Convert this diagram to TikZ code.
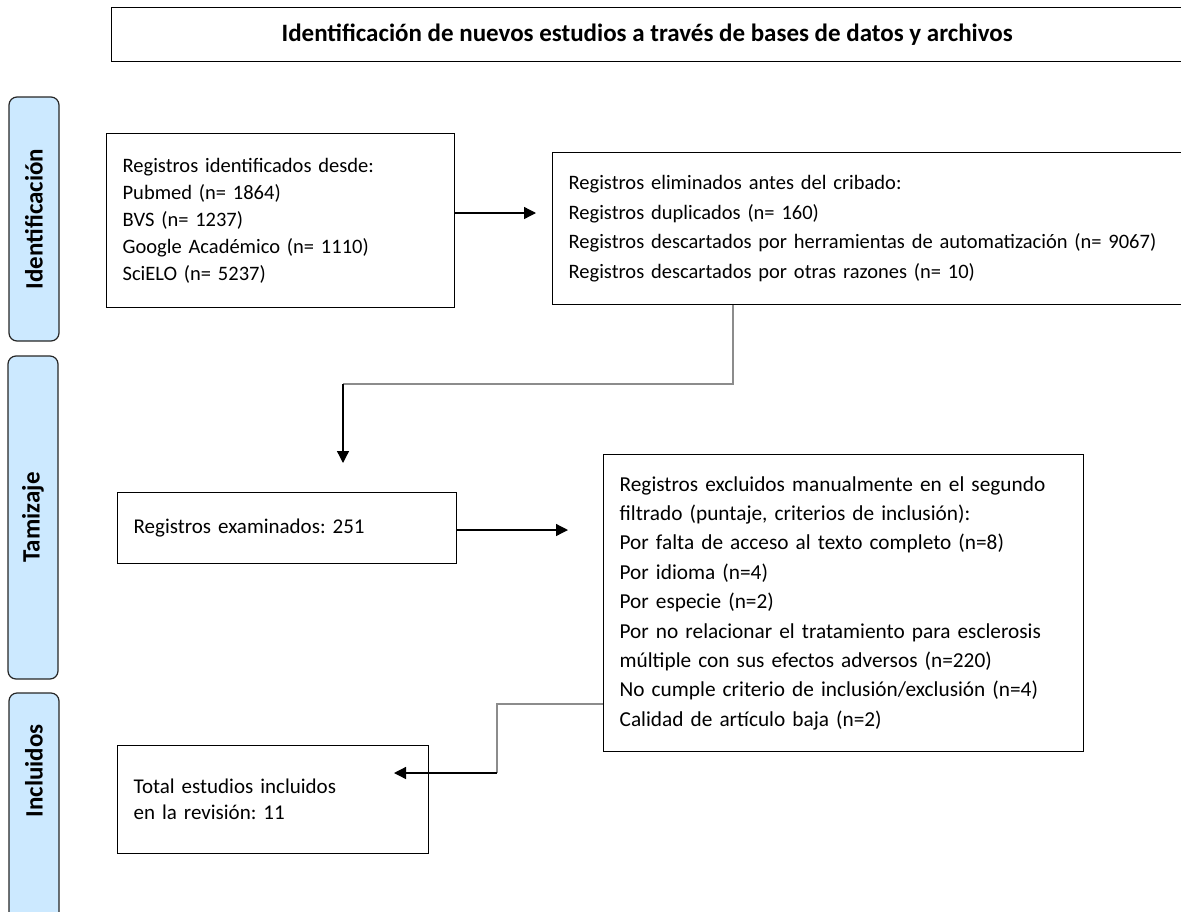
\documentclass[tikz,border=0pt]{standalone}
\usepackage{fontspec}
\setmainfont{Carlito}
\usetikzlibrary{arrows.meta}
\definecolor{phasefill}{HTML}{CCE9FF}
\definecolor{connGray}{HTML}{8C8C8C}
\begin{document}
\frenchspacing
\begin{tikzpicture}[x=1pt,y=-1pt,
  box/.style={draw=black,line width=1.3pt,anchor=north west,inner xsep=16pt,inner ysep=0pt,align=left,font=\fontsize{20.5}{27}\selectfont},
  phase/.style={draw=black!85,line width=1.2pt,fill=phasefill,rounded corners=8pt,rotate=90,minimum height=50pt,inner sep=0pt},
  phasefont/.style={font=\fontsize{25}{28}\selectfont\bfseries},
  grayline/.style={draw=connGray,line width=1.2pt},
  arrowline/.style={draw=black,line width=1.3pt,-{Triangle[length=12pt,width=12pt]}}
]
\useasboundingbox (0,0) rectangle (1181,911);
% title
\node[draw=black,line width=1.3pt,anchor=north west,minimum width=1071pt,minimum height=54pt,inner sep=0pt,font=\fontsize{25}{28}\selectfont\bfseries] (title) at (111,7) {Identificación de nuevos estudios a través de bases de datos y archivos};
% phases
\node[phase,minimum width=244pt,phasefont] (p1) at (34,219) {Identificación};
\node[phase,minimum width=323pt,phasefont] (p2) at (33,517.5) {Tamizaje};
\node[phase,minimum width=240pt] (p3) at (34,813) {};
\node[phasefont,rotate=90] (p3t) at (34,771) {Incluidos};
% boxes
\node[box,minimum width=348pt,minimum height=174pt,text width=316pt] (b1) at (106,133) {Registros identificados desde:\\Pubmed (n= 1864)\\BVS (n= 1237)\\Google Académico (n= 1110)\\SciELO (n= 5237)};
\node[box,minimum width=631pt,minimum height=152pt,text width=599pt,font=\fontsize{20.5}{29.4}\selectfont] (b2) at (552,152) {Registros eliminados antes del cribado:\\Registros duplicados (n= 160)\\Registros descartados por herramientas de automatización (n= 9067)\\Registros descartados por otras razones (n= 10)};
\node[box,minimum width=339pt,minimum height=71pt,text width=307pt,font=\fontsize{21}{27}\selectfont] (b3) at (117,492) {Registros examinados: 251};
\node[box,minimum width=480pt,minimum height=297pt,text width=448pt,font=\fontsize{21.3}{29.4}\selectfont] (b4) at (603,454) {Registros excluidos manualmente en el segundo\\filtrado (puntaje, criterios de inclusión):\\Por falta de acceso al texto completo (n=8)\\Por idioma (n=4)\\Por especie (n=2)\\Por no relacionar el tratamiento para esclerosis\\múltiple con sus efectos adversos (n=220)\\No cumple criterio de inclusión/exclusión (n=4)\\Calidad de artículo baja (n=2)};
\node[box,minimum width=311pt,minimum height=108pt,text width=279pt,font=\fontsize{21}{26}\selectfont] (b5) at (117,745) {Total estudios incluidos\\en la revisión: 11};
% connectors
\coordinate (t1) at (536,213);
\draw[arrowline] (b1.east |- t1) -- (t1);
\coordinate (k1) at (733,384);
\coordinate (k2) at (343,384);
\coordinate (t2) at (343,463);
\draw[grayline] (b2.south -| k1) -- (k1) -- (k2);
\draw[arrowline] (k2) -- (t2);
\coordinate (t3) at (568,530);
\draw[arrowline] (b3.east |- t3) -- (t3);
\coordinate (k3) at (497,704);
\coordinate (k4) at (497,773);
\coordinate (t4) at (394,773);
\draw[grayline] (b4.west |- k3) -- (k3) -- (k4);
\draw[arrowline] (k4) -- (t4);
\end{tikzpicture}
\end{document}
